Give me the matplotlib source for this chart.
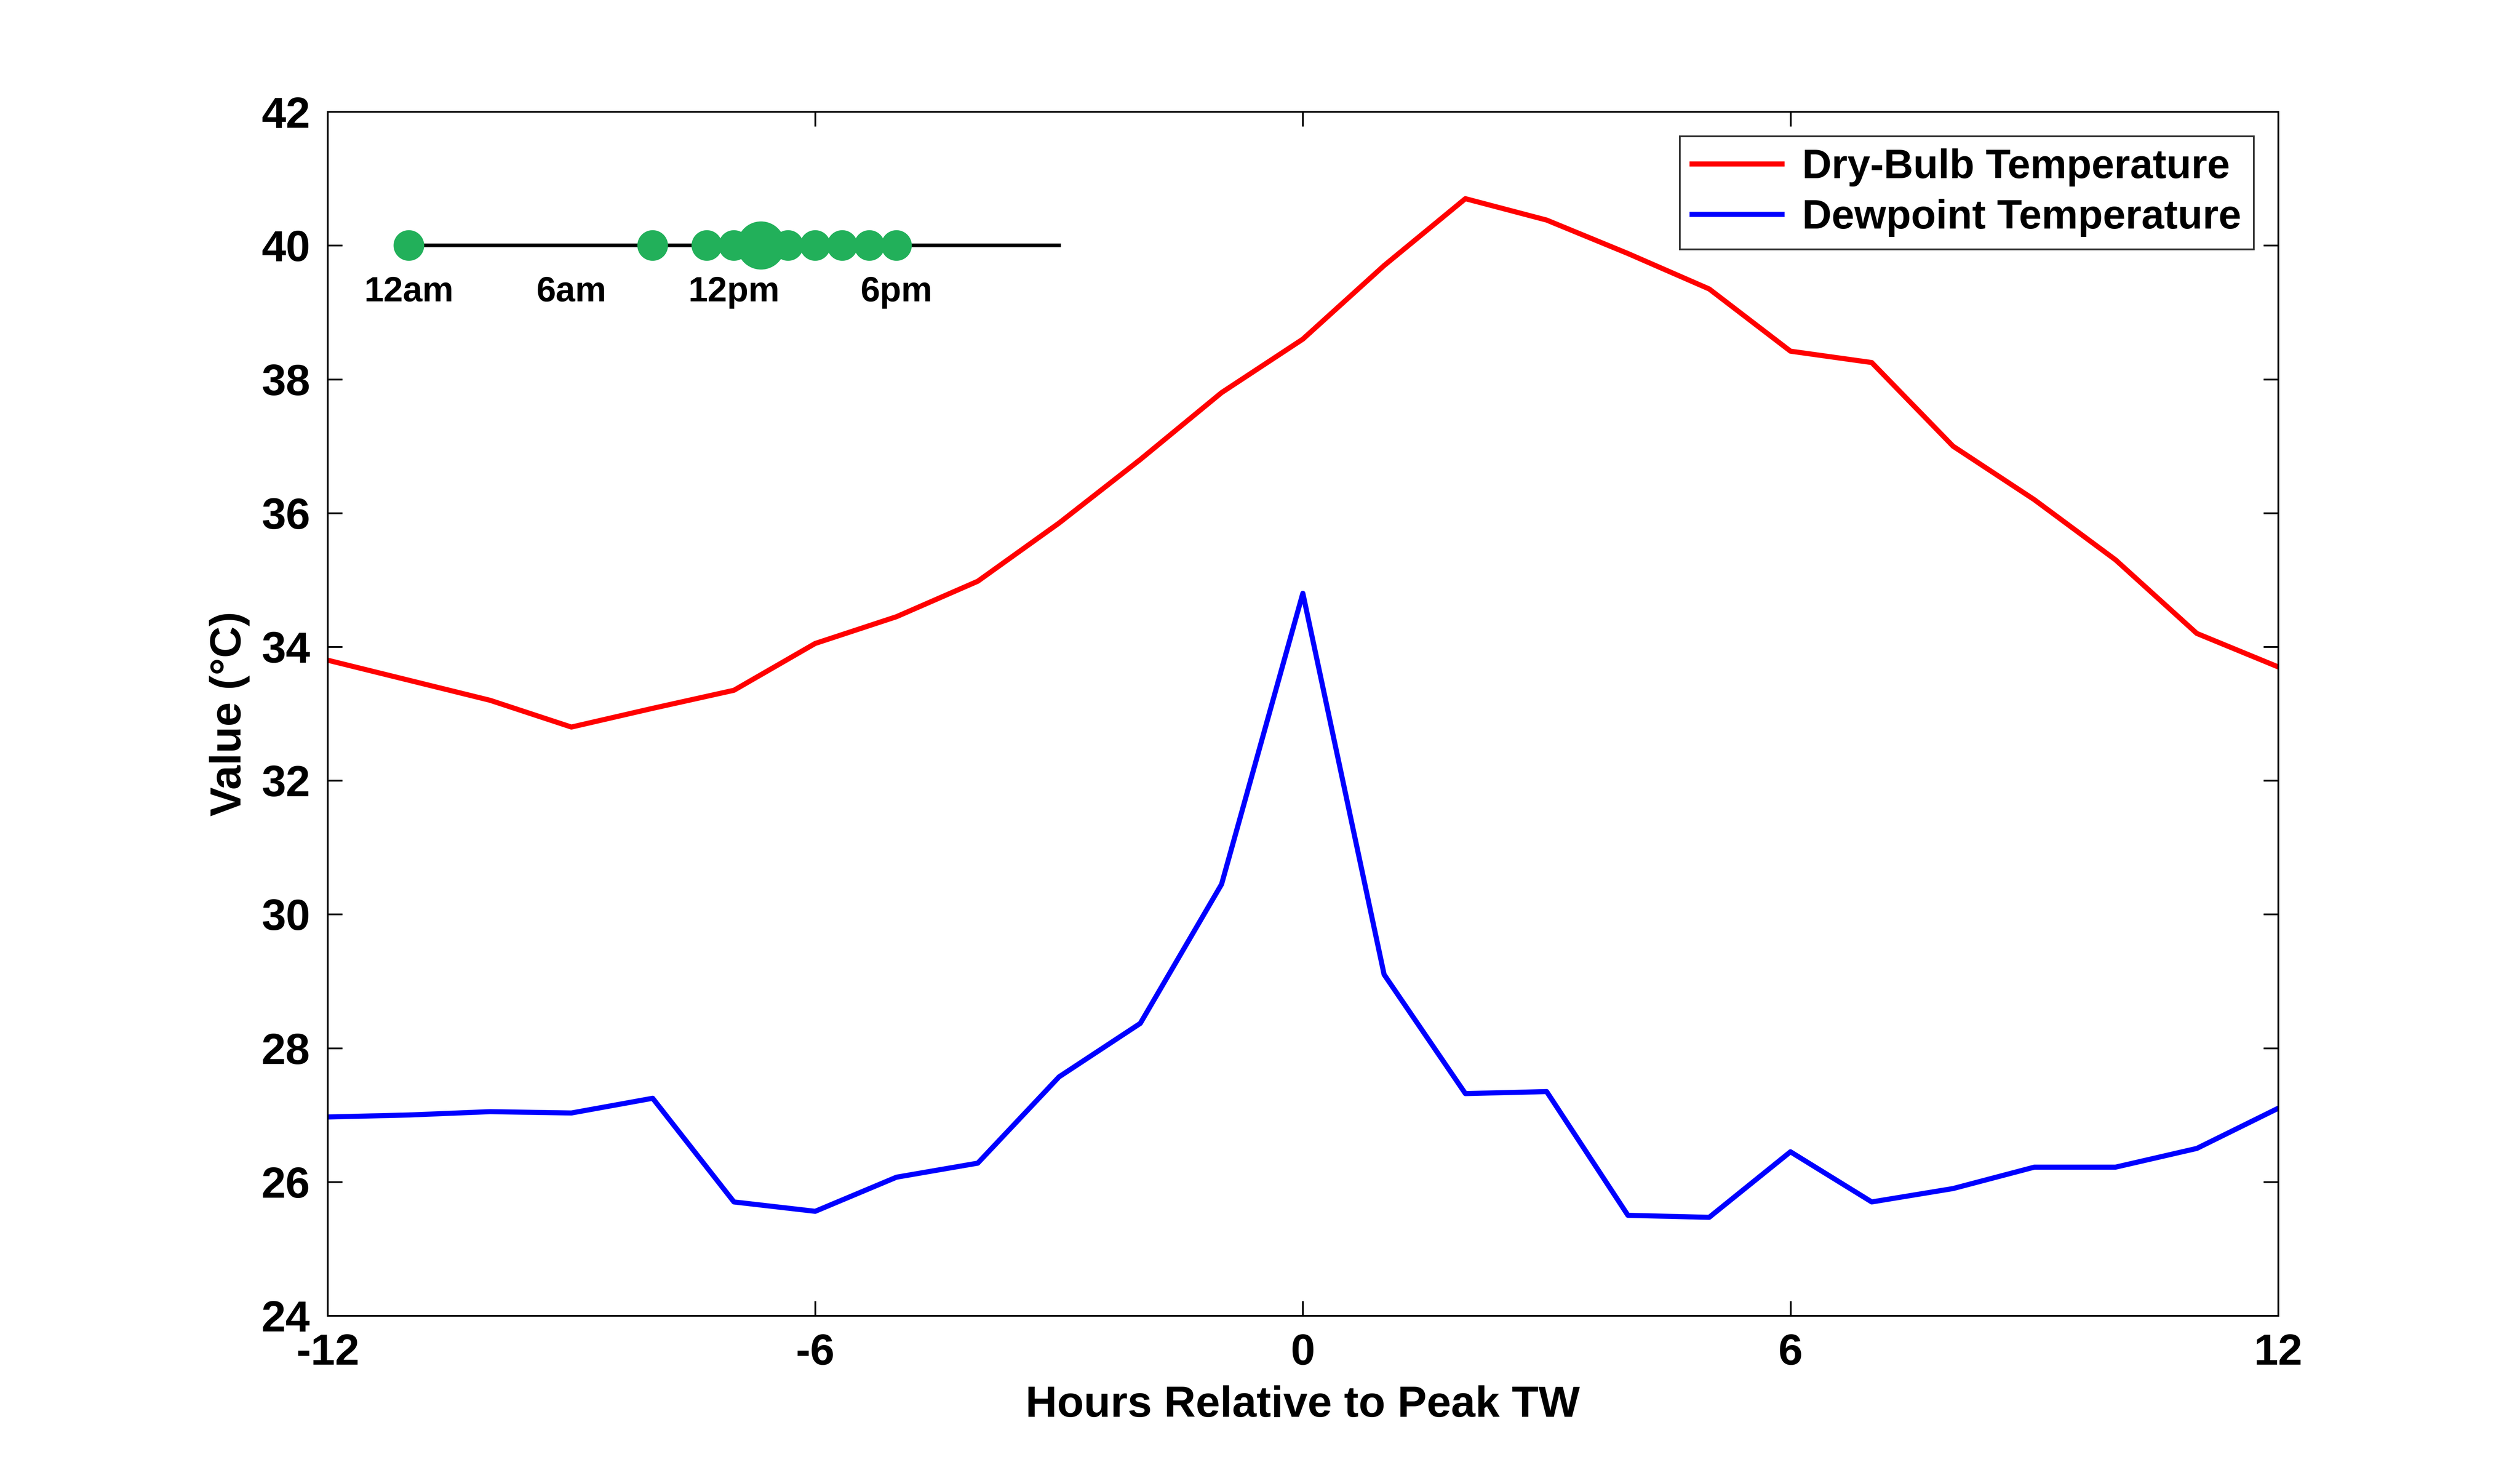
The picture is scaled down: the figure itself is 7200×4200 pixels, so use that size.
import numpy as np
import matplotlib.pyplot as plt

plt.rcParams['font.family'] = ['Liberation Sans', 'DejaVu Sans']
plt.rcParams['font.weight'] = 'bold'
plt.rcParams['axes.unicode_minus'] = False

hours = list(range(-12, 13))
dry_bulb = [33.8, 33.5, 33.2, 32.8, 33.08, 33.35, 34.05, 34.45, 34.98, 35.85, 36.8, 37.8, 38.6,
            39.7, 40.7, 40.38, 39.88, 39.35, 38.42, 38.25, 37.0, 36.2, 35.3, 34.2, 33.7]
dewpoint = [26.97, 27.0, 27.05, 27.03, 27.25, 25.7, 25.56, 26.07, 26.28, 27.57, 28.37, 30.45, 34.8,
            29.1, 27.32, 27.35, 25.5, 25.47, 26.45, 25.7, 25.9, 26.22, 26.22, 26.5, 27.1]

# local hour of peak TW, with number of events at each hour
peak_hours = [0, 9, 11, 12, 13, 14, 15, 16, 17, 18]
peak_counts = [1, 1, 1, 1, 3, 1, 1, 1, 1, 1]
clock_ticks = [0, 6, 12, 18]
clock_labels = ['12am', '6am', '12pm', '6pm']

fig = plt.figure(figsize=(24, 14), dpi=300)
ax = fig.add_axes([0.130, 0.105, 0.774, 0.819])

ax.plot(hours, dry_bulb, color='red', lw=3.5, label='Dry-Bulb Temperature')
ax.plot(hours, dewpoint, color='blue', lw=3.5, label='Dewpoint Temperature')

# inset clock timeline: 24 h spread over 8 data units starting at x=-11
def clock_x(h):
    return -11 + np.asarray(h) * 8 / 24

ax.plot(clock_x([0, 24]), [40, 40], color='black', lw=2.5, zorder=3)
sizes = [(20 + 6 * (c - 1)) ** 2 for c in peak_counts]
ax.scatter(clock_x(peak_hours), [40] * len(peak_hours), s=sizes, color='#22b05a', zorder=4)
for h, lab in zip(clock_ticks, clock_labels):
    ax.text(clock_x(h), 39.3, lab, ha='center', va='center', fontsize=24, fontweight='bold')

ax.set_xlim(-12, 12)
ax.set_ylim(24, 42)
ax.set_xticks([-12, -6, 0, 6, 12])
ax.set_yticks(range(24, 43, 2))
ax.tick_params(labelsize=30, direction='in', length=10, width=1.2, top=True, right=True, pad=12)
for s in ax.spines.values():
    s.set_linewidth(1.2)
ax.set_xlabel('Hours Relative to Peak TW', fontsize=30, fontweight='bold', labelpad=8)
ax.set_ylabel('Value (°C)', fontsize=30, fontweight='bold', labelpad=8)
leg = ax.legend(loc='upper right', fontsize=28, frameon=True, fancybox=False,
                edgecolor='black', handlelength=2.2, borderaxespad=0.6, labelspacing=0.3,
                borderpad=0.3, handletextpad=0.5)
leg.get_frame().set_linewidth(1.2)

fig.savefig('out.png', dpi=300)
